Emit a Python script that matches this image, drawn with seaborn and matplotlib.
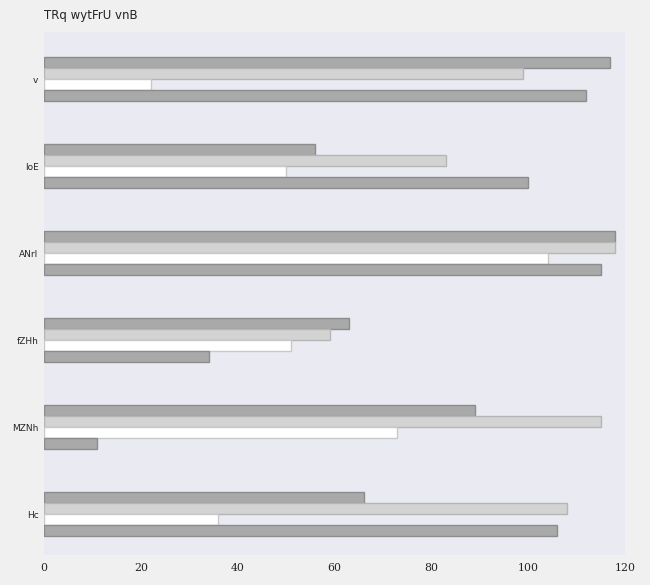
import matplotlib
matplotlib.use("Agg")
import matplotlib.pyplot as plt
import seaborn as sns
import pandas as pd

categories = ["v", "IoE", "ANrl", "fZHh", "MZNh", "Hc"]
series_names = ["A", "B", "C", "D"]
values_A = [117, 56, 118, 63, 89, 66]
values_B = [99, 83, 118, 59, 115, 108]
values_C = [22, 50, 104, 51, 73, 36]
values_D = [112, 100, 115, 34, 11, 106]
xticks = [0, 20, 40, 60, 80, 100, 120]
title = "TRq wytFrU vnB"

fills = ["#a9a9a9", "#d3d3d3", "#ffffff", "#a9a9a9"]
edges = ["#8c8c8c", "#b5b5b5", "#c8c8c8", "#8c8c8c"]

rows = []
for name, vals in zip(series_names, [values_A, values_B, values_C, values_D]):
    for c, v in zip(categories, vals):
        rows.append({"cat": c, "series": name, "value": v})
df = pd.DataFrame(rows)

sns.set_theme(style="dark")
fig = plt.figure(figsize=(6.5, 5.85), dpi=100, facecolor="#f0f0f0")
ax = fig.add_axes([0.0677, 0.0513, 0.8938, 0.8937])
ax.set_facecolor("#eaeaf2")

sns.barplot(data=df, y="cat", x="value", hue="series", order=categories,
            hue_order=series_names, palette=fills, width=0.5, orient="h",
            ax=ax, legend=False, saturation=1)

for cont, ec in zip(ax.containers, edges):
    for p in cont:
        p.set_edgecolor(ec)
        p.set_linewidth(1.0)

ax.set_xlim(0, 120)
ax.set_ylim(5.47, -0.54)
ax.set_xticks(xticks)
ax.set_xticklabels([str(t) for t in xticks], family="DejaVu Serif", fontsize=7.8, color="#222222")
ax.tick_params(axis="x", pad=6, length=0)
ax.tick_params(axis="y", labelsize=6.5, length=0, pad=4)
for s in ax.spines.values():
    s.set_visible(False)
ax.set_xlabel("")
ax.set_ylabel("")
ax.grid(False)
fig.text(0.0677, 0.962, title, fontsize=8.5, ha="left", va="bottom", color="#222222")

fig.savefig("out.png", dpi=100, facecolor=fig.get_facecolor())
